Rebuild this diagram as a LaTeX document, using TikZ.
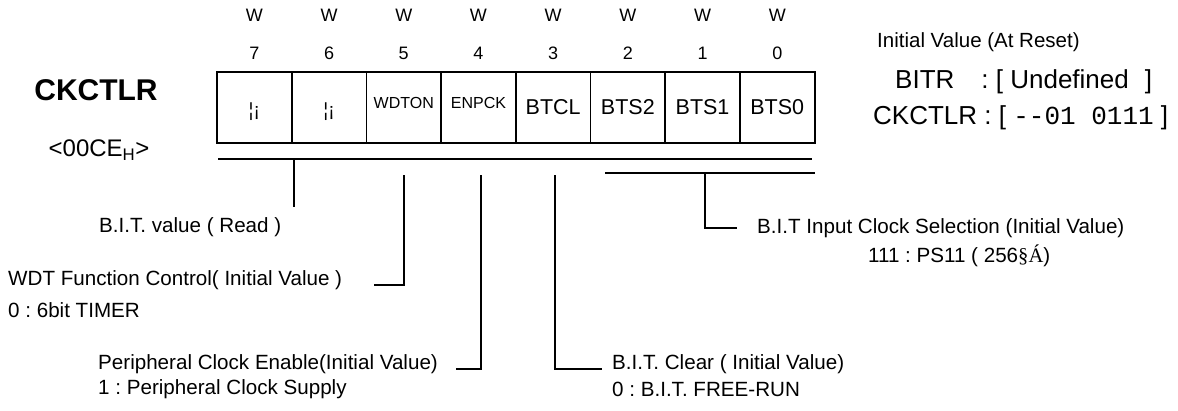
\documentclass[tikz,border=0pt]{standalone}
\usepackage{fontspec}
\setmainfont{Liberation Sans}
\setmonofont{Liberation Mono}
\newfontfamily\serffont{Liberation Serif}
\usetikzlibrary{positioning}
\frenchspacing
\newcommand\fsz[1]{\fontsize{#1bp}{#1bp}\selectfont}
\tikzset{
  regbox/.style={draw, line width=1.8pt, minimum width=74.7bp, minimum height=71bp, inner sep=0pt},
  head/.style={inner sep=0pt, font=\fsz{18}},
  cellsmall/.style={inner sep=0pt, font=\fsz{16}, yshift=5bp},
  cellbig/.style={inner sep=0pt, font=\fsz{21.5}},
  cellmark/.style={inner sep=0pt, font=\fsz{19}, yshift=-4bp},
  lbl/.style={inner sep=0pt, anchor=west, font=\fsz{20.6}},
  reset/.style={inner sep=0pt, anchor=west, font=\fsz{26}},
  lead/.style={line width=1.1pt}
}

\begin{document}
\begin{tikzpicture}[x=1bp,y=-1bp]
    \useasboundingbox (0,0) rectangle (1178,410);

    % register name and address
    \node[font=\bfseries\fsz{30}, inner sep=0pt] (regname) at (96,90) {CKCTLR};
    \node[font=\fsz{24}, inner sep=0pt] (regaddr) at (99,150) {<00CE\textsubscript{H}>};

    % bit cells
    \foreach \b/\lab/\sty in {7/{¦¡}/cellmark, 6/{¦¡}/cellmark, 5/WDTON/cellsmall, 4/ENPCK/cellsmall,
                              3/BTCL/cellbig, 2/BTS2/cellbig, 1/BTS1/cellbig, 0/BTS0/cellbig} {
        \pgfmathsetmacro\cx{254.35+(7-\b)*74.7}
        \node[regbox] (b\b) at (\cx,107.5) {};
        \node[\sty] (t\b) at (b\b.center) {\lab};
        \node[head] (n\b) at (\cx,53) {\b};
        \node[head] (w\b) at (\cx,15) {W};
    }

    % initial value
    \node[inner sep=0pt, anchor=west, font=\fsz{20.5}] (initv) at (877,42) {Initial Value (At Reset)};
    \node[reset] (bitr) at (895,82) {BITR\hspace{27bp}: [ Undefined\hspace{16bp}]};
    \node[reset] (ckr) at (873,118) {CKCTLR : [ {\ttfamily{-}{-}01 0111} ]};

    % field brackets
    \coordinate (r1a) at (218,159);
    \coordinate (r1b) at (812,159);
    \coordinate (r2a) at (605,173);
    \coordinate (r2b) at (815,173);
    \draw[lead] (r1a) -- (r1b);
    \draw[lead] (r2a) -- (r2b);

    % descriptions
    \node[lbl] (bitval) at (99,227) {B.I.T. value ( Read )};
    \node[lbl] (wdt) at (8,280) {WDT Function Control( Initial Value )};
    \node[lbl] (timer) at (8,310) {0 : 6bit TIMER};
    \node[lbl] (penb) at (98,364) {Peripheral Clock Enable(Initial Value)};
    \node[lbl] (psup) at (98,389) {1 : Peripheral Clock Supply};
    \node[lbl] (bclr) at (612,364) {B.I.T. Clear ( Initial Value)};
    \node[lbl] (frun) at (612,389) {0 : B.I.T. FREE-RUN};
    \node[lbl] (bsel) at (757,228) {B.I.T Input Clock Selection (Initial Value)};
    \node[lbl] (ps11) at (868,256) {111 : PS11 ( 256{\serffont §Á})};

    % leaders
    \coordinate (k76a) at (294,159);
    \coordinate (k76b) at (294,207);
    \coordinate (k5a) at (404,175);
    \coordinate (k5b) at (374,285);
    \coordinate (k4a) at (481,175);
    \coordinate (k4b) at (456,369);
    \coordinate (k3a) at (555,175);
    \coordinate (k3b) at (602,369);
    \coordinate (k0a) at (705,173);
    \coordinate (k0b) at (737,228);
    \draw[lead] (k76a) -- (k76b);
    \draw[lead] (k5a) |- (k5b);
    \draw[lead] (k4a) |- (k4b);
    \draw[lead] (k3a) |- (k3b);
    \draw[lead] (k0a) |- (k0b);
\end{tikzpicture}
\end{document}
